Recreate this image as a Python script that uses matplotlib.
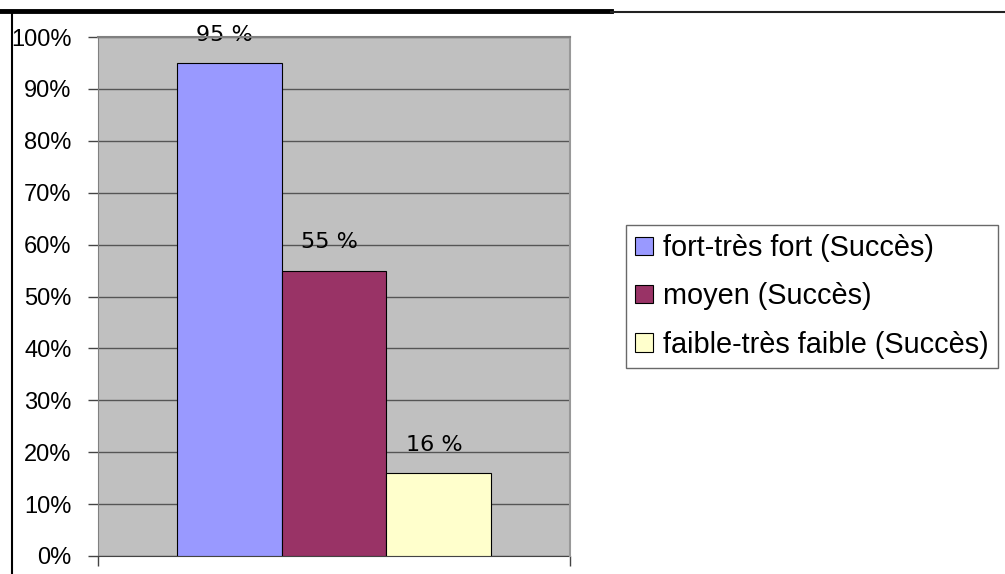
"""Histogramme taux de succès par niveau."""
import matplotlib
matplotlib.use("Agg")
import matplotlib.pyplot as plt
from matplotlib.lines import Line2D
from matplotlib.patches import Patch

# données
categories = ["fort-très fort (Succès)", "moyen (Succès)", "faible-très faible (Succès)"]
values = [95, 55, 16]
labels = ["95 %", "55 %", "16 %"]
colors = ["#9999FF", "#993366", "#FFFFCC"]
yticks = list(range(0, 101, 10))

fig = plt.figure(figsize=(10.05, 5.74), dpi=100)
fig.patch.set_facecolor("white")

ax = fig.add_axes([98 / 1005, 18 / 574, 472 / 1005, 519 / 574])
ax.set_facecolor("#C0C0C0")

# largeur barre : 3 barres + gap 150 %
w = 1.0 / 4.5
x0 = -0.5 + 0.75 * w
for i, (v, c, lab) in enumerate(zip(values, colors, labels)):
    xc = x0 + (i + 0.5) * w
    ax.bar(xc, v, width=w, color=c, edgecolor="black", linewidth=0.8, zorder=3)
    ax.text(xc - 0.01, v + 3.5, lab, ha="center", va="bottom",
            fontsize=16, family="DejaVu Sans", color="black", zorder=4)

ax.set_xlim(-0.5, 0.5)
ax.set_ylim(0, 100)
ax.set_yticks(yticks)
ax.set_yticklabels([f"{t}%" for t in yticks], fontsize=17,
                   family="Liberation Sans")
ax.yaxis.grid(True, color="#555555", linewidth=1.0, zorder=1)
ax.set_axisbelow(True)
ax.tick_params(axis="y", length=7, width=1, color="#444444", pad=12)
ax.set_xticks([-0.5, 0.5])
ax.set_xticklabels([])
ax.tick_params(axis="x", length=7, width=1, color="#444444", direction="out")
for s in ("top", "right", "bottom", "left"):
    ax.spines[s].set_visible(False)
ax.spines["left"].set_visible(True)
ax.spines["left"].set_color("#808080")
ax.spines["bottom"].set_visible(True)
ax.spines["bottom"].set_color("#444444")
ax.plot([1, 1], [0, 1], transform=ax.transAxes, color="#999999", lw=1.5,
        clip_on=False, zorder=5)
ax.plot([0, 1], [1, 1], transform=ax.transAxes, color="#808080", lw=1.5,
        clip_on=False, zorder=5)

# légende
handles = [Patch(facecolor=c, edgecolor="black", linewidth=0.8) for c in colors]
leg = fig.legend(handles, categories, loc="upper left",
                 bbox_to_anchor=(626 / 1005, 1 - 225 / 574),
                 prop={"family": "Liberation Sans", "size": 20.8},
                 frameon=True, fancybox=False, edgecolor="#444444",
                 borderpad=0.32, handlelength=0.6, handleheight=0.6,
                 handletextpad=0.35, labelspacing=0.7, borderaxespad=0)
leg.get_frame().set_linewidth(1.0)

# cadre
fig.add_artist(Line2D([0, 611 / 1005], [1 - 11 / 574] * 2, color="black", lw=3.5))
fig.add_artist(Line2D([611 / 1005, 1], [1 - 12 / 574] * 2, color="#222222", lw=1.5))
fig.add_artist(Line2D([12 / 1005] * 2, [0, 1 - 11 / 574], color="black", lw=1.5))

fig.savefig("out.png", dpi=100, facecolor="white")
